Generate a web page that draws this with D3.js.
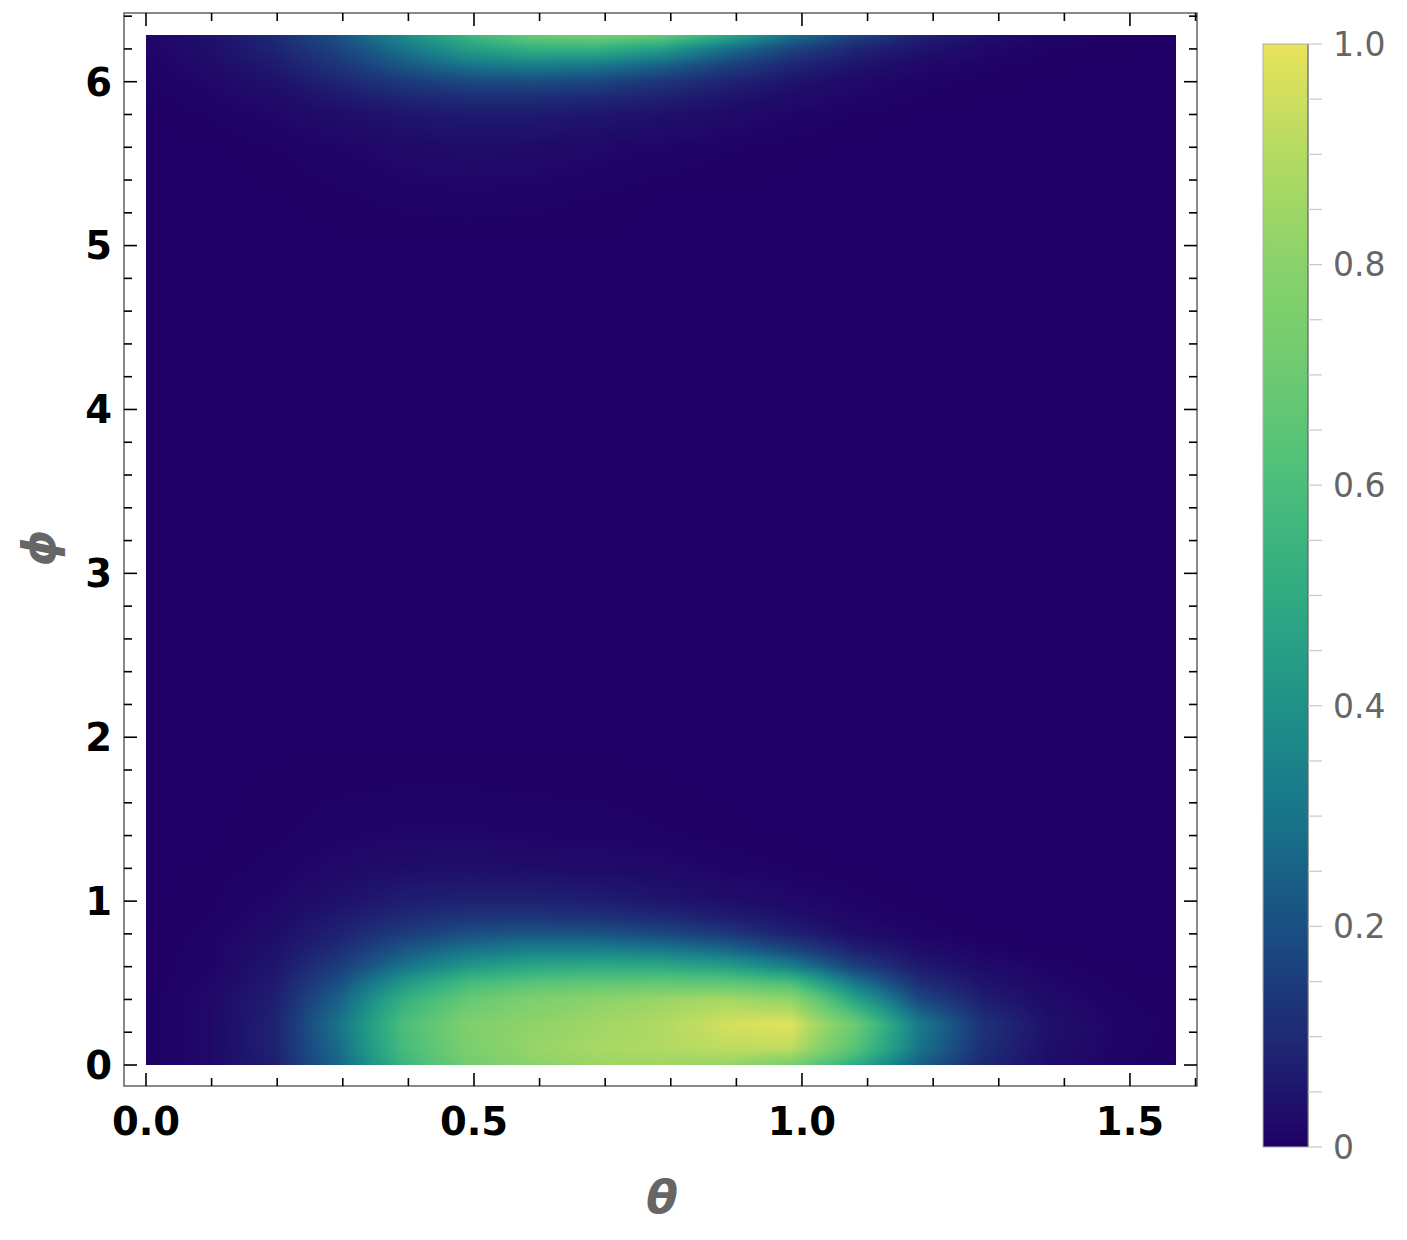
<!DOCTYPE html>
<html><head><meta charset="utf-8">
<script src="https://cdn.jsdelivr.net/npm/d3@7"></script>
<style>body{margin:0;background:#fff}svg{display:block}</style>
</head><body>
<script>
// ---- data ----
const theta = [0, 0.098, 0.196, 0.295, 0.393, 0.491, 0.589, 0.687, 0.785, 0.884, 0.982, 1.080, 1.178, 1.276, 1.374, 1.473, 1.571];
const phi = [0, 0.1, 0.25, 0.4, 0.5, 0.6, 0.7, 0.8, 0.9, 1.0, 1.2, 1.4, 1.7, 2.0, 3.0, 4.0, 5.0, 5.3, 5.6, 5.8, 5.9, 6.0, 6.1, 6.2, 6.2832];
const density = [
  [0, 0.02, 0.07, 0.26, 0.55, 0.72, 0.80, 0.84, 0.85, 0.83, 0.74, 0.50, 0.24, 0.09, 0.03, 0.008, 0],
  [0, 0.02, 0.08, 0.28, 0.58, 0.75, 0.83, 0.87, 0.89, 0.92, 0.92, 0.64, 0.30, 0.11, 0.035, 0.01, 0.002],
  [0, 0.02, 0.08, 0.30, 0.60, 0.76, 0.81, 0.85, 0.89, 0.96, 0.99, 0.70, 0.32, 0.12, 0.04, 0.012, 0.003],
  [0, 0.02, 0.07, 0.25, 0.52, 0.68, 0.76, 0.80, 0.84, 0.87, 0.82, 0.47, 0.18, 0.07, 0.025, 0.007, 0],
  [0, 0.015, 0.06, 0.20, 0.42, 0.58, 0.64, 0.66, 0.67, 0.66, 0.60, 0.31, 0.11, 0.045, 0.015, 0.005, 0],
  [0, 0.01, 0.05, 0.15, 0.30, 0.42, 0.48, 0.50, 0.49, 0.45, 0.34, 0.16, 0.06, 0.025, 0.01, 0, 0],
  [0, 0.01, 0.04, 0.11, 0.22, 0.30, 0.34, 0.34, 0.32, 0.27, 0.18, 0.08, 0.03, 0.01, 0, 0, 0],
  [0, 0.008, 0.03, 0.08, 0.15, 0.20, 0.22, 0.21, 0.18, 0.14, 0.08, 0.03, 0.01, 0, 0, 0, 0],
  [0, 0.005, 0.02, 0.06, 0.10, 0.13, 0.13, 0.12, 0.10, 0.07, 0.04, 0.015, 0.005, 0, 0, 0, 0],
  [0, 0.004, 0.015, 0.04, 0.07, 0.08, 0.08, 0.07, 0.05, 0.035, 0.02, 0.008, 0, 0, 0, 0, 0],
  [0, 0.002, 0.008, 0.02, 0.03, 0.035, 0.03, 0.025, 0.02, 0.01, 0.005, 0, 0, 0, 0, 0, 0],
  [0, 0, 0.004, 0.01, 0.015, 0.015, 0.012, 0.01, 0.006, 0.003, 0, 0, 0, 0, 0, 0, 0],
  [0, 0, 0.002, 0.004, 0.005, 0.005, 0.004, 0.003, 0.002, 0, 0, 0, 0, 0, 0, 0, 0],
  [0, 0, 0, 0, 0, 0, 0, 0, 0, 0, 0, 0, 0, 0, 0, 0, 0],
  [0, 0, 0, 0, 0, 0, 0, 0, 0, 0, 0, 0, 0, 0, 0, 0, 0],
  [0, 0, 0, 0, 0, 0, 0, 0, 0, 0, 0, 0, 0, 0, 0, 0, 0],
  [0, 0, 0, 0, 0, 0, 0, 0, 0, 0, 0, 0, 0, 0, 0, 0, 0],
  [0, 0, 0, 0.004, 0.008, 0.01, 0.008, 0.005, 0, 0, 0, 0, 0, 0, 0, 0, 0],
  [0, 0, 0.005, 0.012, 0.022, 0.028, 0.025, 0.018, 0.012, 0.006, 0.002, 0, 0, 0, 0, 0, 0],
  [0, 0.006, 0.015, 0.03, 0.05, 0.06, 0.06, 0.05, 0.038, 0.025, 0.012, 0.005, 0, 0, 0, 0, 0],
  [0.002, 0.01, 0.025, 0.055, 0.085, 0.105, 0.105, 0.095, 0.075, 0.045, 0.025, 0.012, 0.005, 0, 0, 0, 0],
  [0.004, 0.017, 0.04, 0.085, 0.14, 0.18, 0.19, 0.17, 0.13, 0.085, 0.045, 0.02, 0.008, 0.003, 0, 0, 0],
  [0.006, 0.024, 0.06, 0.13, 0.22, 0.30, 0.33, 0.31, 0.25, 0.16, 0.09, 0.045, 0.02, 0.007, 0.002, 0, 0],
  [0.01, 0.033, 0.085, 0.17, 0.30, 0.44, 0.52, 0.52, 0.44, 0.29, 0.17, 0.09, 0.045, 0.018, 0.006, 0.002, 0],
  [0.012, 0.042, 0.10, 0.21, 0.37, 0.55, 0.69, 0.73, 0.68, 0.49, 0.29, 0.17, 0.08, 0.035, 0.012, 0.004, 0]
];
const xTicks = [0, 0.5, 1.0, 1.5];
const yTicks = [0, 1, 2, 3, 4, 5, 6];
const barTicks = [0, 0.2, 0.4, 0.6, 0.8, 1.0];
const barTickLabels = ["0", "0.2", "0.4", "0.6", "0.8", "1.0"];
const colorStops = [0, 0.1, 0.2, 0.3, 0.4, 0.5, 0.6, 0.7, 0.8, 0.9, 1.0];
const colorHex = ["#200066", "#1e2a75", "#1a4f82", "#18748a", "#1f9288", "#2fab82", "#4bbe7b", "#6cca72", "#8ad26a", "#b4da62", "#e8e35a"];

// ---- layout ----
const W = 1407, H = 1240;
const x = d3.scaleLinear().domain([0, Math.PI / 2]).range([146, 1176.4]);
const y = d3.scaleLinear().domain([0, 2 * Math.PI]).range([1065, 35.3]);
const frame = {x0: 124, x1: 1197, y0: 13, y1: 1086};
const color = d3.scaleLinear().domain(colorStops).range(colorHex).interpolate(d3.interpolateRgb).clamp(true);

const svg = d3.select("body").append("svg").attr("width", W).attr("height", H);

// ---- density image ----
const px0 = Math.round(x(0)), px1 = Math.round(x(Math.PI / 2));
const py0 = Math.round(y(2 * Math.PI)), py1 = Math.round(y(0));
const cw = px1 - px0, ch = py1 - py0;
const canvas = document.createElement("canvas");
canvas.width = cw; canvas.height = ch;
const ctx = canvas.getContext("2d");
const img = ctx.createImageData(cw, ch);
const rowScales = density.map(r => d3.scaleLinear().domain(theta).range(r).clamp(true));
const colTheta = d3.range(cw).map(i => x.invert(px0 + i + 0.5));
const rowCols = rowScales.map(s => colTheta.map(t => s(t)));
const lut = d3.range(1001).map(i => d3.rgb(color(i / 1000)));
for (let j = 0; j < ch; j++) {
  const p = Math.max(0, Math.min(2 * Math.PI, y.invert(py0 + j + 0.5)));
  let k = Math.min(phi.length - 2, Math.max(0, d3.bisectRight(phi, p) - 1));
  const f = (p - phi[k]) / (phi[k + 1] - phi[k]);
  const a = rowCols[k], b = rowCols[k + 1];
  for (let i = 0; i < cw; i++) {
    const v = a[i] + (b[i] - a[i]) * f;
    const c = lut[Math.max(0, Math.min(1000, Math.round(v * 1000)))];
    const o = (j * cw + i) * 4;
    img.data[o] = c.r; img.data[o + 1] = c.g; img.data[o + 2] = c.b; img.data[o + 3] = 255;
  }
}
ctx.putImageData(img, 0, 0);
svg.append("image").attr("x", px0).attr("y", py0).attr("width", cw).attr("height", ch)
  .attr("preserveAspectRatio", "none").attr("href", canvas.toDataURL());

// ---- frame ----
svg.append("rect").attr("x", frame.x0).attr("y", frame.y0)
  .attr("width", frame.x1 - frame.x0).attr("height", frame.y1 - frame.y0)
  .attr("fill", "none").attr("stroke", "#6b6b6b").attr("stroke-width", 1.6);

const tickG = svg.append("g").attr("stroke", "#000").attr("stroke-width", 1.6);
const xMinor = d3.range(0, 16.5).map(i => i / 10).filter(v => !xTicks.some(t => Math.abs(t - v) < 1e-9));
const yMinor = d3.range(0, 33).map(i => i / 5).filter(v => !yTicks.some(t => Math.abs(t - v) < 1e-9));
function xt(vals, len) {
  vals.forEach(v => {
    const X = x(v); if (X < frame.x0 || X > frame.x1) return;
    tickG.append("line").attr("x1", X).attr("x2", X).attr("y1", frame.y1).attr("y2", frame.y1 - len);
    tickG.append("line").attr("x1", X).attr("x2", X).attr("y1", frame.y0).attr("y2", frame.y0 + len);
  });
}
function yt(vals, len) {
  vals.forEach(v => {
    const Y = y(v); if (Y < frame.y0 || Y > frame.y1) return;
    tickG.append("line").attr("y1", Y).attr("y2", Y).attr("x1", frame.x0).attr("x2", frame.x0 + len);
    tickG.append("line").attr("y1", Y).attr("y2", Y).attr("x1", frame.x1).attr("x2", frame.x1 - len);
  });
}
xt(xTicks, 13); xt(xMinor, 8); yt(yTicks, 13); yt(yMinor, 8);

// tick labels
svg.append("g").selectAll("text").data(xTicks).join("text")
  .attr("x", d => x(d)).attr("y", 1135).attr("text-anchor", "middle")
  .attr("font-family", "DejaVu Sans").attr("font-weight", "bold").attr("font-size", 38.5)
  .attr("fill", "#000").text(d => d3.format(".1f")(d));
svg.append("g").selectAll("text").data(yTicks).join("text")
  .attr("x", 112).attr("y", d => y(d)).attr("dy", "0.36em").attr("text-anchor", "end")
  .attr("font-family", "DejaVu Sans").attr("font-weight", "bold").attr("font-size", 38.5)
  .attr("fill", "#000").text(d => d);

// axis labels
svg.append("text").attr("x", 662).attr("y", 1213).attr("text-anchor", "middle")
  .attr("font-family", "DejaVu Sans").attr("font-weight", "bold").attr("font-style", "italic")
  .attr("font-size", 46).attr("fill", "#666").text("θ");
svg.append("text").attr("transform", "translate(55,548) rotate(-90)").attr("text-anchor", "middle")
  .attr("font-family", "DejaVu Sans").attr("font-weight", "bold").attr("font-style", "italic")
  .attr("font-size", 46).attr("fill", "#666").text("ϕ");

// ---- colorbar ----
const cb = {x0: 1263, x1: 1308};
const cy = d3.scaleLinear().domain([0, 1]).range([1147, 44]);
const defs = svg.append("defs");
const grad = defs.append("linearGradient").attr("id", "cbg").attr("x1", 0).attr("y1", 1).attr("x2", 0).attr("y2", 0);
grad.selectAll("stop").data(colorStops).join("stop")
  .attr("offset", d => d).attr("stop-color", d => color(d));
svg.append("rect").attr("x", cb.x0).attr("y", cy(1)).attr("width", cb.x1 - cb.x0)
  .attr("height", cy(0) - cy(1)).attr("fill", "url(#cbg)").attr("stroke", "#b0b0b0").attr("stroke-width", 1);
svg.append("line").attr("x1", cb.x1).attr("x2", cb.x1).attr("y1", cy(1)).attr("y2", cy(0))
  .attr("stroke", "#000").attr("stroke-opacity", 0.45).attr("stroke-width", 1.2);
svg.append("g").selectAll("line").data(d3.range(0, 21).map(i => i / 20)).join("line")
  .attr("x1", cb.x1).attr("x2", cb.x1 + 14).attr("y1", d => cy(d)).attr("y2", d => cy(d))
  .attr("stroke", "#c8c8c8").attr("stroke-width", 1.2);
svg.append("g").selectAll("text").data(barTicks).join("text")
  .attr("x", 1333).attr("y", d => cy(d)).attr("dy", "0.36em")
  .attr("font-family", "DejaVu Sans").attr("font-size", 33).attr("fill", "#666")
  .text((d, i) => barTickLabels[i]);
</script>
</body></html>
